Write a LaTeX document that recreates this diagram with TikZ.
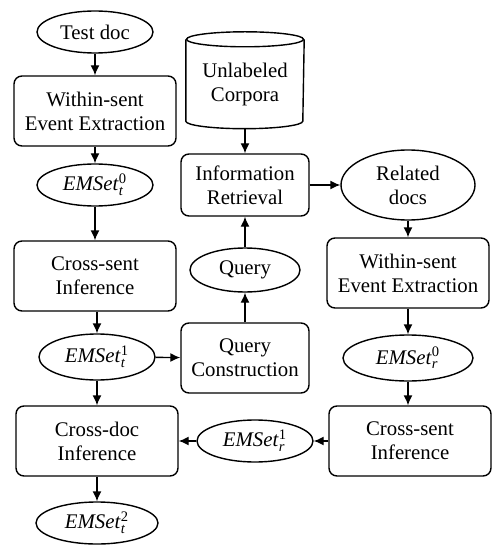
\documentclass[tikz,border=0pt]{standalone}
\usepackage{fontspec}
\usepackage{amsmath}
\setmainfont{Liberation Serif}
\usetikzlibrary{shapes.geometric,arrows.meta}

\tikzset{
    box/.style={draw, rounded corners=4pt, align=center, line width=0.7pt,
        minimum width=81pt, minimum height=35pt, inner sep=2pt},
    oval/.style={draw, ellipse, align=center, line width=0.7pt,
        minimum width=58pt, minimum height=21pt, inner sep=1pt},
    store/.style={align=center, minimum width=58.5pt, minimum height=44pt},
    rim/.style={x radius=29.25pt, y radius=3.75pt},
    >={Latex[length=5pt,width=4.5pt]}
}
\newcommand{\emset}[2]{\textit{EMSet}$^{\text{#2}}_{\textit{#1}}$}

\begin{document}
\begin{tikzpicture}[x=0.5pt, y=-0.5pt, font=\fontsize{10.4}{12}\selectfont, line width=0.7pt]
    \useasboundingbox (0,0) rectangle (492,545);

    % test doc column
    \node[oval] (td) at (95,32) {Test doc};
    \node[box] (wsl) at (95,111) {Within-sent\\Event Extraction};
    \node[oval] (e0t) at (95,185) {\emset{t}{0}};
    \node[box] (csl) at (95,276) {Cross-sent\\Inference};
    \node[oval, minimum height=23pt] (e1t) at (97,357) {\emset{t}{1}};
    \node[box] (cd) at (97,441) {Cross-doc\\Inference};
    \node[oval, minimum width=61pt] (e2t) at (97,523) {\emset{t}{2}};

    % retrieval column
    \node[store] (uc) at (245,84) {Unlabeled\\Corpora};
    \draw (uc.north) ellipse [rim];
    \draw (uc.north west) -- ([yshift=3.75pt]uc.south west)
        arc [start angle=180, end angle=360, rim] -- (uc.north east);
    \node[box, minimum width=64pt, minimum height=31pt] (ir) at (245,185) {Information\\Retrieval};
    \node[oval, minimum width=55pt, minimum height=22pt] (q) at (245,270) {Query};
    \node[box, minimum width=64pt] (qc) at (245,358) {Query\\Construction};
    \node[oval] (e1r) at (255,441) {\emset{r}{1}};

    % related docs column
    \node[oval, minimum width=67pt, minimum height=35pt] (rd) at (408,185) {Related\\docs};
    \node[box] (wsr) at (408,273) {Within-sent\\Event Extraction};
    \node[oval, minimum width=65pt, minimum height=23pt] (e0r) at (408,358) {\emset{r}{0}};
    \node[box] (csr) at (410,441) {Cross-sent\\Inference};

    \draw[->] (td) -- (wsl);
    \draw[->] (wsl) -- (e0t);
    \draw[->] (e0t) -- (csl);
    \draw[->] (csl.south -| e1t) -- (e1t);
    \draw[->] (e1t) -- (cd);
    \draw[->] (cd) -- (e2t);
    \draw[->] (e1t) -- (qc);
    \draw[->] (qc) -- (q);
    \draw[->] (q) -- (ir);
    \draw[->] (uc) -- (ir);
    \draw[->] (ir) -- (rd);
    \draw[->] (rd) -- (wsr);
    \draw[->] (wsr) -- (e0r);
    \draw[->] (e0r) -- (e0r |- csr.north);
    \draw[->] (csr) -- (e1r);
    \draw[->] (e1r) -- (cd);
\end{tikzpicture}
\end{document}
